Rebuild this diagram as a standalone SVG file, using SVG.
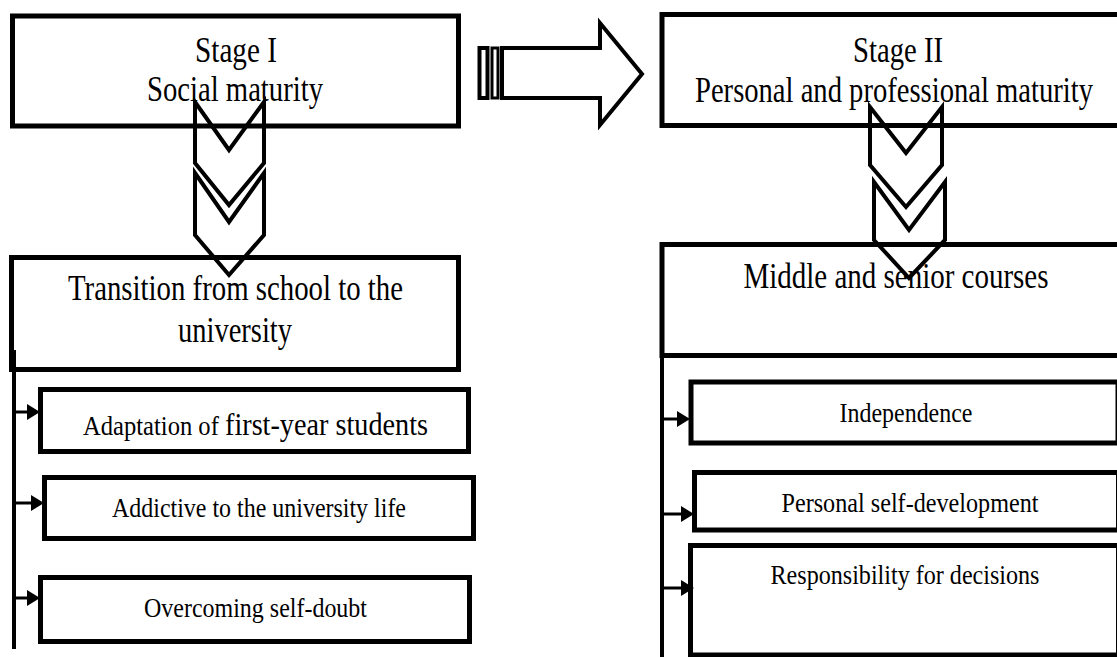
<svg xmlns="http://www.w3.org/2000/svg" width="1117" height="657" viewBox="0 0 1117 657">
<defs>
<style>
.box{fill:#fff;stroke:#000;stroke-width:5}
.chev{fill:none;stroke:#000;stroke-width:4;stroke-linejoin:miter}
.conn{fill:none;stroke:#000;stroke-width:4}
.thin{fill:none;stroke:#000;stroke-width:3}
.head{fill:#000}
.t{font-family:"Liberation Serif","Times New Roman",serif;fill:#000;text-anchor:middle}
.big{font-size:35px}
.small{font-size:27px}
</style>
</defs>
<rect x="0" y="0" width="1117" height="657" fill="#fff"/>

<g id="stage1">
<rect class="box" x="12.5" y="16" width="446" height="110"/>
<text class="t big" x="236" y="62" textLength="82" lengthAdjust="spacingAndGlyphs">Stage I</text>
<text class="t big" x="235" y="101" textLength="176" lengthAdjust="spacingAndGlyphs">Social maturity</text>
</g>

<g id="stage2">
<rect class="box" x="662" y="14.5" width="470" height="111"/>
<text class="t big" x="898" y="62" textLength="90" lengthAdjust="spacingAndGlyphs">Stage II</text>
<text class="t big" x="894" y="102" textLength="398" lengthAdjust="spacingAndGlyphs">Personal and professional maturity</text>
</g>

<g id="transition">
<rect class="box" x="11.5" y="257.5" width="447" height="112"/>
<text class="t big" x="235.5" y="300" textLength="335" lengthAdjust="spacingAndGlyphs">Transition from school to the</text>
<text class="t big" x="235" y="342" textLength="114" lengthAdjust="spacingAndGlyphs">university</text>
</g>

<g id="middle">
<rect class="box" x="662" y="244.5" width="470" height="111"/>
<text class="t big" x="896" y="288" textLength="305" lengthAdjust="spacingAndGlyphs">Middle and senior courses</text>
</g>

<g id="adaptation">
<rect class="box" x="40.5" y="389.5" width="428" height="62"/>
<text class="t" x="255.5" y="435" textLength="345" lengthAdjust="spacingAndGlyphs"><tspan font-size="27">Adaptation of </tspan><tspan font-size="31">first-year students</tspan></text>
</g>

<g id="addictive">
<rect class="box" x="44.5" y="477.5" width="429" height="61"/>
<text class="t small" x="259" y="517" textLength="294" lengthAdjust="spacingAndGlyphs">Addictive to the university life</text>
</g>

<g id="overcoming">
<rect class="box" x="40.5" y="577.5" width="429" height="64"/>
<text class="t small" x="255.5" y="617" textLength="223" lengthAdjust="spacingAndGlyphs">Overcoming self-doubt</text>
</g>

<g id="independence">
<rect class="box" x="691" y="382" width="427" height="61"/>
<text class="t small" x="906" y="422" textLength="133" lengthAdjust="spacingAndGlyphs">Independence</text>
</g>

<g id="selfdev">
<rect class="box" x="694.5" y="472.5" width="424" height="57.5"/>
<text class="t small" x="910" y="512" textLength="257" lengthAdjust="spacingAndGlyphs">Personal self-development</text>
</g>

<g id="responsibility">
<rect class="box" x="690.5" y="545.5" width="428" height="109.5"/>
<text class="t small" x="905" y="584" textLength="269" lengthAdjust="spacingAndGlyphs">Responsibility for decisions</text>
</g>

<g id="connectors">
<rect x="479.5" y="48" width="8" height="50" fill="#fff" stroke="#000" stroke-width="4"/>
<rect x="492" y="48" width="6" height="50" fill="#fff" stroke="#000" stroke-width="3"/>
<polygon class="conn" points="502,48 600,48 600,23 642,74 600,125 600,98 502,98"/>
<polygon class="chev" points="195,102 229,150 264,102 264,163 229,205 195,163"/>
<polygon class="chev" points="195,173 229,222 264,173 264,235 229,275 195,235"/>
<polygon class="chev" points="870,107 906,153 942,107 942,165 906,207 870,165"/>
<polygon class="chev" points="874,182 909,230 945,182 945,240 909,278 874,240"/>
<line class="conn" x1="14" y1="350" x2="14" y2="649"/>
<line class="thin" x1="14" y1="412" x2="30" y2="412"/>
<polygon class="head" points="27,404 40,412 27,420"/>
<line class="thin" x1="14" y1="503" x2="34" y2="503"/>
<polygon class="head" points="31,495 44,503 31,511"/>
<line class="thin" x1="14" y1="598" x2="30" y2="598"/>
<polygon class="head" points="27,590 40,598 27,606"/>
<line class="conn" x1="662" y1="355" x2="662" y2="657"/>
<line class="thin" x1="662" y1="419" x2="680" y2="419"/>
<polygon class="head" points="677,411 690,419 677,427"/>
<line class="thin" x1="662" y1="514" x2="684" y2="514"/>
<polygon class="head" points="681,506 694,514 681,522"/>
<line class="thin" x1="662" y1="588" x2="684" y2="588"/>
<polygon class="head" points="681,580 694,588 681,596"/>
</g>
</svg>
